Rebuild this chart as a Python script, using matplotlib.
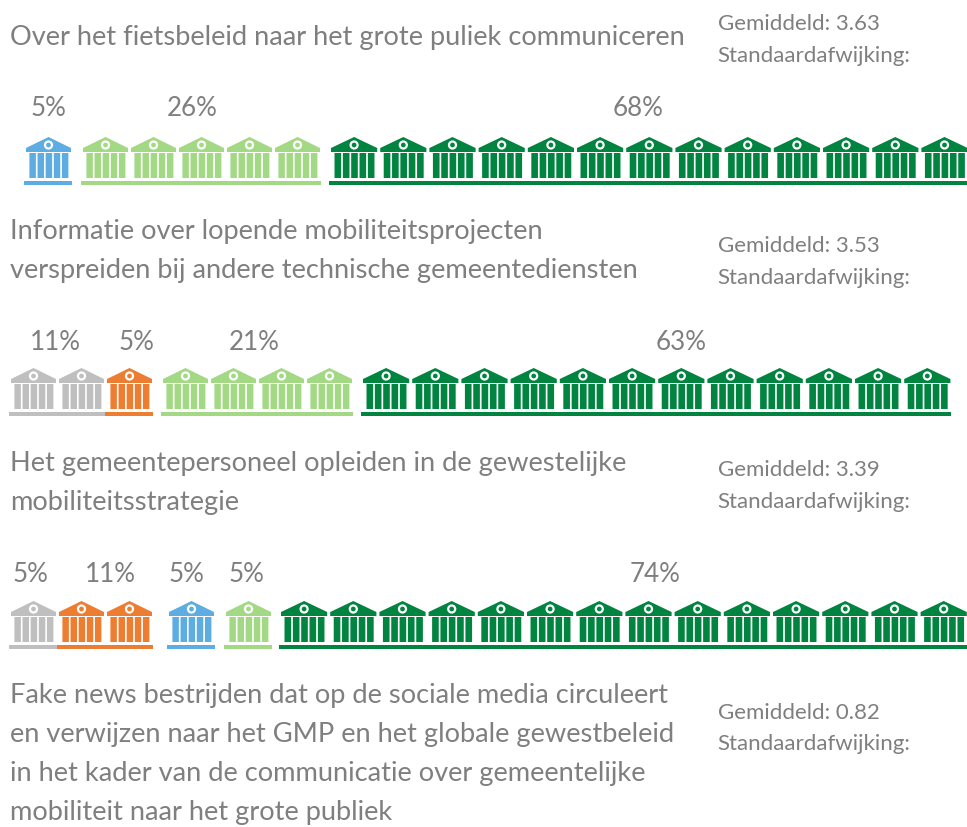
import matplotlib
matplotlib.use('Agg')
import matplotlib.pyplot as plt
from matplotlib.patches import Polygon, Rectangle, Circle

GREY = '#bfbfbf'
ORANGE = '#ed7d31'
BLUE = '#5dade2'
LIGHT = '#a3d984'
DARK = '#00843f'
TEXT = '#7f7f7f'

titles = [
    'Over het fietsbeleid naar het grote puliek communiceren',
    'Informatie over lopende mobiliteitsprojecten\nverspreiden bij andere technische gemeentediensten',
    'Het gemeentepersoneel opleiden in de gewestelijke\nmobiliteitsstrategie',
    'Fake news bestrijden dat op de sociale media circuleert\n'
    'en verwijzen naar het GMP en het globale gewestbeleid\n'
    'in het kader van de communicatie over gemeentelijke\n'
    'mobiliteit naar het grote publiek',
]
means = ['3.63', '3.53', '3.39', '0.82']

row1_colors = [BLUE, LIGHT, DARK]
row1_counts = [1, 5, 13]
row1_pcts = ['5%', '26%', '68%']
row2_colors = [GREY, ORANGE, LIGHT, DARK]
row2_counts = [2, 1, 4, 12]
row2_pcts = ['11%', '5%', '21%', '63%']
row3_colors = [GREY, ORANGE, BLUE, LIGHT, DARK]
row3_counts = [1, 2, 1, 1, 14]
row3_pcts = ['5%', '11%', '5%', '5%', '74%']

# layout in pixels
title_y = [37, 231, 463, 695]
mean_y = [24, 246, 470, 713]
row_bottoms = [185, 416, 649]
row_starts = [[25, 82, 330], [10, 106, 162, 362], [10, 58, 168, 225, 280]]
pct_y = [109, 343, 575]
pct_centers = [[48, 192, 638], [55, 136, 254, 681], [31, 110, 187, 246, 655]]
LINE = 39.3

plt.rcParams['font.family'] = ['Lato', 'DejaVu Sans']

fig = plt.figure(figsize=(9.67, 8.27), dpi=100)
ax = fig.add_axes([0, 0, 1, 1])
ax.set_xlim(0, 967)
ax.set_ylim(827, 0)
ax.axis('off')


def draw_icon(ax, x, bottom, color, w):
    # one building, x is the left edge, no base line
    s = w / 49
    cx = x + w / 2
    ax.add_patch(Polygon([(x + 1, bottom - 37), (x + 1, bottom - 33), (x + w - 2, bottom - 33),
                          (x + w - 2, bottom - 37), (cx - 0.5, bottom - 48)], closed=True,
                         fc=color, ec='none', snap=False))
    for i in range(5):
        ax.add_patch(Rectangle((x + 4.5 * s + i * 8.3 * s, bottom - 32), 6.6 * s, 25,
                               fc=color, ec='none', snap=False))
    ax.add_patch(Circle((cx - 0.5, bottom - 40), 3.5, fc=color, ec='white', lw=1.6))


def draw_row(ax, bottom, starts, colors, counts):
    for start, color, count in zip(starts, colors, counts):
        # dark green buildings sit a bit wider apart
        pitch = 49.2 if color == DARK else 48
        for i in range(count):
            draw_icon(ax, start + i * pitch, bottom, color, pitch)
        ax.add_patch(Rectangle((start - 1, bottom - 4), count * pitch, 4, fc=color, ec='none'))


rows = [(row1_colors, row1_counts, row1_pcts), (row2_colors, row2_counts, row2_pcts),
        (row3_colors, row3_counts, row3_pcts)]
for r, (colors, counts, pcts) in enumerate(rows):
    draw_row(ax, row_bottoms[r], row_starts[r], colors, counts)
    for xc, p in zip(pct_centers[r], pcts):
        ax.text(xc, pct_y[r], p, fontsize=18.7, color=TEXT, ha='center', va='center')

for t, y in zip(titles, title_y):
    for j, line in enumerate(t.split('\n')):
        ax.text(10, y + j * LINE, line, fontsize=19.65, color=TEXT, ha='left', va='center')

for m, y in zip(means, mean_y):
    ax.text(718, y, 'Gemiddeld: ' + m, fontsize=16, color=TEXT, ha='left', va='center')
    ax.text(717, y + 31.5, 'Standaardafwijking:', fontsize=16, color=TEXT, ha='left', va='center')

fig.savefig('out.png', dpi=100)
